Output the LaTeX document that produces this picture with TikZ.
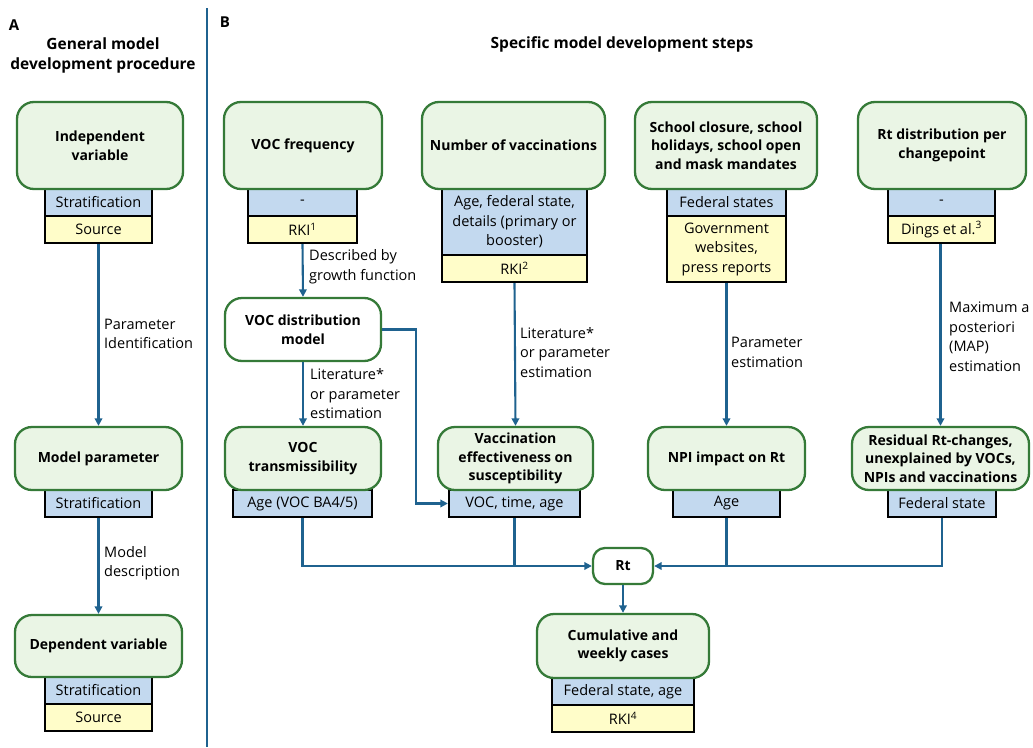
\documentclass[tikz,border=0pt]{standalone}
\usepackage{fontspec}
\setmainfont{Open Sans}
\usetikzlibrary{arrows.meta}
\definecolor{lineblue}{HTML}{1F628F}
\definecolor{gborder}{HTML}{357A38}
\definecolor{gfill}{HTML}{EAF5E5}
\definecolor{sblue}{HTML}{C3D9EF}
\definecolor{syellow}{HTML}{FFFDC9}
\begin{document}
\begin{tikzpicture}[x=1pt,y=-1pt,
  varbox/.style={draw=gborder, line width=2.3pt, fill=gfill, rounded corners=17pt,
    align=center, inner sep=2pt, font=\fontsize{14}{18.5}\selectfont\bfseries},
  whitebox/.style={varbox, fill=white},
  stratbox/.style={draw=black, line width=2.3pt, fill=sblue, align=center, inner sep=0pt,
    font=\fontsize{14.5}{19.5}\selectfont},
  srcbox/.style={stratbox, fill=syellow},
  conn/.style={draw=lineblue, line width=2.1pt},
  arr/.style={conn, -{Triangle[length=7.5pt,width=7.5pt]}},
  lbl/.style={anchor=west, align=left, inner sep=0pt, font=\fontsize{14.5}{19.5}\selectfont},
  ttl/.style={align=center, inner sep=0pt, font=\fontsize{15.5}{20}\selectfont\bfseries}
]
\useasboundingbox (0,0) rectangle (1033,747);

% panel titles
\node[inner sep=0pt, font=\fontsize{15}{18}\selectfont\bfseries] (la) at (14,25) {A};
\node[inner sep=0pt, font=\fontsize{15}{18}\selectfont\bfseries] (lb) at (225,22) {B};
\node[ttl] (ta) at (103,55) {General model\\development procedure};
\node[ttl] (tb) at (622,44) {Specific model development steps};
\coordinate (d1) at (207,8);
\coordinate (d2) at (207,747);
\draw[conn] (d1) -- (d2);

% ---------- Panel A ----------
\node[stratbox, minimum width=107pt, minimum height=27pt] (indepS) at (98.5,202.5) {Stratification};
\node[srcbox, minimum width=107pt, minimum height=27pt] (indepSrc) at (98.5,229.5) {Source};
\node[varbox, minimum width=166pt, minimum height=87pt] (indep) at (100,145.5) {Independent\\variable};

\node[stratbox, minimum width=107pt, minimum height=27pt] (mparS) at (98.5,503.5) {Stratification};
\node[varbox, minimum width=167pt, minimum height=63pt] (mpar) at (98.5,458.5) {Model parameter};

\node[stratbox, minimum width=107pt, minimum height=27pt] (depS) at (98.5,690.5) {Stratification};
\node[srcbox, minimum width=107pt, minimum height=27pt] (depSrc) at (98.5,717.5) {Source};
\node[varbox, minimum width=167pt, minimum height=62pt] (dep) at (98.5,646) {Dependent variable};

\draw[arr] (indepSrc.south) -- (mpar.north);
\node[lbl] (lA1) at (104,334) {Parameter\\Identification};
\draw[arr] (mparS.south) -- (dep.north);
\node[lbl] (lA2) at (104,563) {Model\\description};

% ---------- Panel B ----------
% VOC frequency column
\node[stratbox, minimum width=109pt, minimum height=27pt] (vocfS) at (302.5,202.5) {-};
\node[srcbox, minimum width=109pt, minimum height=27pt] (vocfSrc) at (302.5,229.5) {RKI\textsuperscript{1}};
\node[varbox, minimum width=158pt, minimum height=87pt] (vocf) at (303,145.5) {VOC frequency};

\node[whitebox, minimum width=156pt, minimum height=63pt] (vocd) at (303,329.5) {VOC distribution\\model};

\node[stratbox, minimum width=139pt, minimum height=27pt] (voctS) at (302.5,503.5) {Age (VOC BA4/5)};
\node[varbox, minimum width=156pt, minimum height=63pt] (voct) at (303,458.5) {VOC\\transmissibility};

% Number of vaccinations column
\node[stratbox, minimum width=145pt, minimum height=66pt] (nvacS) at (514.5,222) {Age, federal state,\\details (primary or\\booster)};
\node[srcbox, minimum width=145pt, minimum height=27pt] (nvacSrc) at (514.5,268.5) {RKI\textsuperscript{2}};
\node[varbox, minimum width=183pt, minimum height=87pt] (nvac) at (513.5,145.5) {Number of vaccinations};

\node[stratbox, minimum width=131pt, minimum height=27pt] (vaceffS) at (514.5,503.5) {VOC, time, age};
\node[varbox, minimum width=155pt, minimum height=63pt] (vaceff) at (515.5,458.5) {Vaccination\\effectiveness on\\susceptibility};

% School column
\node[stratbox, minimum width=119pt, minimum height=27pt] (schS) at (726.5,202.5) {Federal states};
\node[srcbox, minimum width=119pt, minimum height=66pt] (schSrc) at (726.5,249) {Government\\websites,\\press reports};
\node[varbox, minimum width=182pt, minimum height=87pt] (sch) at (726,145.5) {School closure, school\\holidays, school open\\and mask mandates};

\node[stratbox, minimum width=107pt, minimum height=27pt] (npiS) at (726.5,503.5) {Age};
\node[varbox, minimum width=157pt, minimum height=63pt] (npi) at (726.5,458.5) {NPI impact on Rt};

% Rt distribution column
\node[stratbox, minimum width=107pt, minimum height=27pt] (rtdS) at (941.5,202.5) {-};
\node[srcbox, minimum width=107pt, minimum height=27pt] (rtdSrc) at (941.5,229.5) {Dings et al.\textsuperscript{3}};
\node[varbox, minimum width=168pt, minimum height=87pt] (rtd) at (942,145.5) {Rt distribution per\\changepoint};

\node[stratbox, minimum width=108pt, minimum height=27pt] (resS) at (942,503.5) {Federal state};
\node[varbox, minimum width=177pt, minimum height=63pt] (res) at (940.5,458.5) {Residual Rt-changes,\\unexplained by VOCs,\\NPIs and vaccinations};

% Rt and cases
\node[whitebox, rounded corners=12pt, minimum width=60pt, minimum height=36pt] (rt) at (623,566) {Rt};
\node[stratbox, minimum width=142pt, minimum height=27pt] (cumS) at (623,691.5) {Federal state, age};
\node[srcbox, minimum width=142pt, minimum height=27pt] (cumSrc) at (623,718.5) {RKI\textsuperscript{4}};
\node[varbox, minimum width=172pt, minimum height=64pt] (cum) at (623,646) {Cumulative and\\weekly cases};

% connectors
\draw[arr] (vocfSrc.south) -- (vocd.north);
\node[lbl] (l1) at (309,266.5) {Described by\\growth function};
\draw[arr] (vocd.south) -- (voct.north);
\node[lbl] (l2) at (310,394) {Literature*\\or parameter\\estimation};
\coordinate (k1) at (416,329.5);
\coordinate (k2) at (416,503.5);
\draw[arr] (vocd.east) -- (k1) -- (k2) -- (vaceffS.west);

\draw[arr] (nvacSrc.south) -- (vaceff.north);
\node[lbl] (l3) at (520,352.5) {Literature*\\or parameter\\estimation};

\draw[arr] (schSrc.south) -- (npi.north);
\node[lbl] (l4) at (731,352.5) {Parameter\\estimation};

\draw[arr] (rtdSrc.south -| res.north) -- (res.north);
\node[lbl] (l5) at (949,336.5) {Maximum a\\posteriori\\(MAP)\\estimation};

\draw[arr] (voctS.south) |- (rt.west);
\draw[conn] (vaceffS.south) -- (vaceffS.south |- rt.west);
\draw[conn] (npiS.south) -- (npiS.south |- rt.east);
\draw[arr] (resS.south) |- (rt.east);
\draw[arr] (rt.south) -- (cum.north);
\end{tikzpicture}
\end{document}
